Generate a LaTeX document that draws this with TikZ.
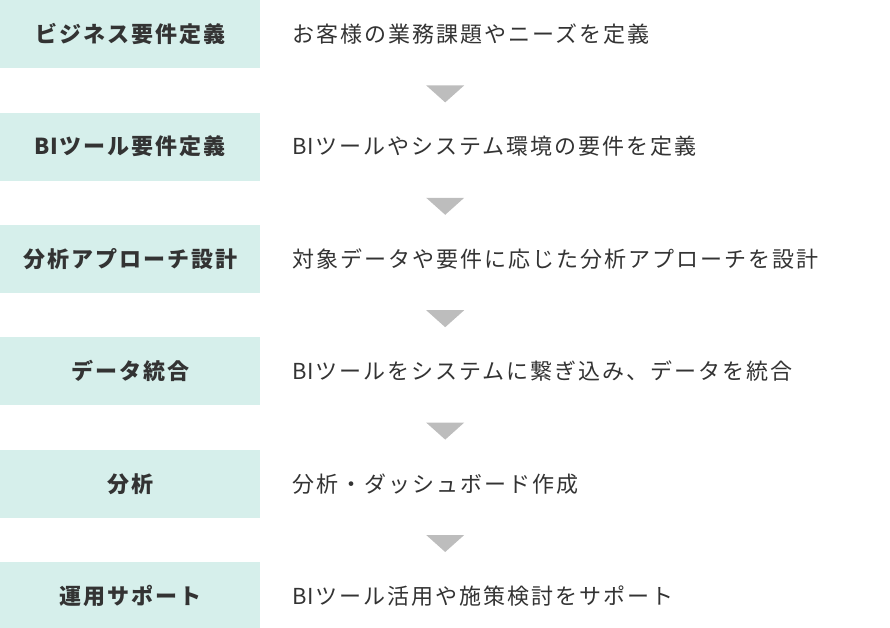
\documentclass[tikz,border=0pt]{standalone}
\usepackage{fontspec}
\newfontfamily\jp[LetterSpace=9]{Noto Sans CJK JP}
\newfontfamily\jpstretto{Noto Sans CJK JP}
\newcommand{\sigla}{{\jpstretto BI}\hspace{2pt}}
\usetikzlibrary{positioning}
\definecolor{menta}{HTML}{D6EFEB}
\definecolor{testo}{HTML}{333333}
\definecolor{freccia}{HTML}{BDBDBD}

\begin{document}
\begin{tikzpicture}[x=1pt, y=-1pt,
    every node/.style={inner sep=0pt, text=testo, font=\jp\fontsize{22}{24}\selectfont},
    fase/.style={fill=menta, minimum width=260pt, minimum height=68pt,
      font=\jp\bfseries\fontsize{22}{24}\selectfont},
    descr/.style={anchor=west}]
  \useasboundingbox (0,0) rectangle (890,628);

  % Fasi
  \node[fase, anchor=north west] (F1) at (0,0) {ビジネス要件定義};
  \node[fase, below=44pt of F1] (F2) {\sigla ツール要件定義};
  \node[fase, below=44pt of F2] (F3) {分析アプローチ設計};
  \node[fase, below=44pt of F3] (F4) {データ統合};
  \node[fase, below=44pt of F4] (F5) {分析};
  \node[fase, below=44pt of F5] (F6) {運用サポート};

  % Descrizioni
  \node[descr, right=32pt of F1] (D1) {お客様の業務課題やニーズを定義};
  \node[descr, right=32pt of F2] (D2) {\sigla ツールやシステム環境の要件を定義};
  \node[descr, right=32pt of F3] (D3) {対象データや要件に応じた分析アプローチを設計};
  \node[descr, right=32pt of F4] (D4) {\sigla ツールをシステムに繋ぎ込み、データを統合};
  \node[descr, right=32pt of F5] (D5) {分析・ダッシュボード作成};
  \node[descr, right=32pt of F6] (D6) {\sigla ツール活用や施策検討をサポート};

  % Frecce
  \foreach \i in {1,...,5}
    \fill[freccia] ([xshift=296pt, yshift=-17pt]F\i.south) -- ++(38pt,0pt) -- ++(-19pt,-17pt) -- cycle;

\end{tikzpicture}
\end{document}
